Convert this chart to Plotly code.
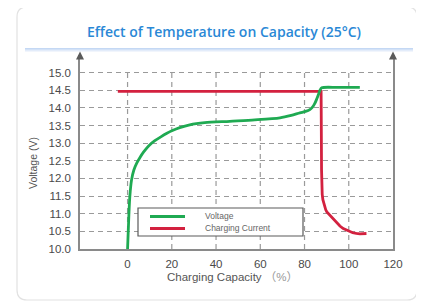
import plotly.graph_objects as go

# ---- data ----
cap_voltage = [0, 0.6, 1.04, 1.81, 2.85, 4.2, 5.55, 7.37, 9.63, 12.34, 15.05, 17.77, 20.03, 23.6, 28.1, 34.9,
               46.2, 57.5, 68.9, 74.0, 77.9, 80.5, 82.4, 83.6, 84.6, 85.5, 86.3, 87.0, 87.8, 95.0, 105.0]
voltage = [10.0, 10.97, 11.5, 11.96, 12.24, 12.44, 12.59, 12.76, 12.93, 13.07, 13.18, 13.28, 13.35, 13.44, 13.52,
           13.58, 13.62, 13.66, 13.72, 13.79, 13.86, 13.9, 13.95, 14.02, 14.12, 14.25, 14.38, 14.5, 14.57,
           14.58, 14.58]

cap_current = [-4.4, 87.5, 87.7, 87.8, 88.0, 88.3, 88.7, 89.2, 89.6, 90.1, 90.8, 91.5, 92.4, 93.3, 94.6, 96.0,
               97.5, 99.1, 100.4, 101.8, 103.4, 105.0, 108.0]
current = [14.47, 14.47, 12.24, 11.75, 11.55, 11.4, 11.28, 11.19, 11.11, 11.05, 11.0, 10.95, 10.88, 10.82, 10.73,
           10.65, 10.58, 10.53, 10.49, 10.46, 10.44, 10.43, 10.44]

x_ticks = [0, 20, 40, 60, 80, 100, 120]
x_grid = [0, 20, 40, 60, 80, 100]
y_ticks = [10.0, 10.5, 11.0, 11.5, 12.0, 12.5, 13.0, 13.5, 14.0, 14.5, 15.0]

series_names = ["Voltage", "Charging Current"]
GREEN = "#1faa52"
RED = "#d3213f"

# ---- geometry (reference pixels; page body has an 8px margin) ----
OFF = 8
W, H = 424 - OFF, 302 - OFF
L_ref, R_ref, T_ref, B_ref = 80, 393, 55, 249
L, T = L_ref - OFF, T_ref - OFF
R = W - (R_ref - OFF)
B = H - (B_ref - OFF)
PW = R_ref - L_ref
PH = B_ref - T_ref


def px(x):
    return (x - L_ref) / PW


def py(y):
    return (B_ref - y) / PH


fig = go.Figure()
fig.add_trace(go.Scatter(x=cap_current, y=current, mode="lines", name=series_names[1],
                         line=dict(color=RED, width=2.8, shape="linear"),
                         showlegend=False, hoverinfo="skip"))
fig.add_trace(go.Scatter(x=cap_voltage, y=voltage, mode="lines", name=series_names[0],
                         line=dict(color=GREEN, width=2.8, shape="spline", smoothing=0.8),
                         showlegend=False, hoverinfo="skip"))

shapes = []
# card
x0, x1, y0, y1, r = 17, 417, 7, 300, 10
path = (f"M {px(x0+r)},{py(y0)} L {px(x1-r)},{py(y0)} Q {px(x1)},{py(y0)} {px(x1)},{py(y0+r)} "
        f"L {px(x1)},{py(y1-r)} Q {px(x1)},{py(y1)} {px(x1-r)},{py(y1)} "
        f"L {px(x0+r)},{py(y1)} Q {px(x0)},{py(y1)} {px(x0)},{py(y1-r)} "
        f"L {px(x0)},{py(y0+r)} Q {px(x0)},{py(y0)} {px(x0+r)},{py(y0)} Z")
shapes.append(dict(type="path", path=path, xref="paper", yref="paper",
                   line=dict(color="#e2e2e2", width=1.2), fillcolor="white", layer="below"))
# light blue band at top of chart image
shapes.append(dict(type="rect", xref="paper", yref="paper", x0=px(25), x1=px(413), y0=py(51.5), y1=py(48),
                   line=dict(width=0), fillcolor="#e3ecfa", layer="below"))
shapes.append(dict(type="rect", xref="paper", yref="paper", x0=px(25), x1=px(413), y0=py(49.6), y1=py(48),
                   line=dict(width=0), fillcolor="#c4d8f4", layer="below"))
# vertical dashed grid lines (stop at 15.0)
for g in x_grid:
    shapes.append(dict(type="line", xref="x", yref="y", x0=g, x1=g, y0=y_ticks[0], y1=y_ticks[-1],
                       line=dict(color="#9a9a9a", width=1.2, dash="5px,4px"), layer="below"))
# axis arrows
for ax in (80, 393):
    shapes.append(dict(type="path", xref="paper", yref="paper",
                       path=f"M {px(ax)},{py(51.5)} L {px(ax-4)},{py(59.5)} L {px(ax+4)},{py(59.5)} Z",
                       line=dict(width=0), fillcolor="#5a5a5a", layer="above"))
# legend box
shapes.append(dict(type="rect", xref="paper", yref="paper", x0=px(138), x1=px(303), y0=py(236), y1=py(208),
                   line=dict(color="#5a5a5a", width=1.2), fillcolor="white", layer="above"))
shapes.append(dict(type="line", xref="paper", yref="paper", x0=px(150), x1=px(185), y0=py(216.5), y1=py(216.5),
                   line=dict(color=GREEN, width=3), layer="above"))
shapes.append(dict(type="line", xref="paper", yref="paper", x0=px(150), x1=px(185), y0=py(228.5), y1=py(228.5),
                   line=dict(color=RED, width=3), layer="above"))

annotations = [
    dict(text="Effect of Temperature on Capacity (25°C)", xref="paper", yref="paper",
         x=px(224), y=py(31), showarrow=False, xanchor="center", yanchor="middle",
         font=dict(family="Open Sans", size=14, color="#2a88d6", weight=600)),
    dict(text="Voltage (V)", xref="paper", yref="paper", x=px(33), y=py(163), textangle=-90,
         showarrow=False, xanchor="center", yanchor="middle",
         font=dict(family="Liberation Sans", size=10.5, color="#555")),
    dict(text="Charging Capacity <span style='color:#9a9a9a'>（%）</span>", xref="paper", yref="paper",
         x=px(232), y=py(277), showarrow=False, xanchor="center", yanchor="middle",
         font=dict(family="Liberation Sans, Noto Sans CJK SC", size=11.5, color="#555")),
    dict(text=series_names[0], xref="paper", yref="paper", x=px(203), y=py(216), showarrow=False,
         xanchor="left", yanchor="middle", font=dict(family="Liberation Sans", size=8.5, color="#666")),
    dict(text=series_names[1], xref="paper", yref="paper", x=px(203), y=py(228), showarrow=False,
         xanchor="left", yanchor="middle", font=dict(family="Liberation Sans", size=8.5, color="#666")),
]

fig.update_layout(
    width=W, height=H, margin=dict(l=L, r=R, t=T, b=B),
    paper_bgcolor="white", plot_bgcolor="rgba(0,0,0,0)",
    shapes=shapes, annotations=annotations, showlegend=False,
    xaxis=dict(range=[-21.5, 120], tickvals=x_ticks, showgrid=False, zeroline=False,
               showline=True, linecolor="#8a8a8a", linewidth=1.5, mirror=False, ticks="",
               ticklabelstandoff=3,
               tickfont=dict(family="Liberation Sans", size=11.5, color="#4a4a4a")),
    yaxis=dict(range=[10, 15.5], tickvals=y_ticks, ticktext=[f"{v:.1f}" for v in y_ticks],
               showgrid=True, gridcolor="#9a9a9a", griddash="5px,4px", gridwidth=1.2,
               zeroline=False, showline=True, linecolor="#8a8a8a", linewidth=1.5, mirror=True,
               ticks="", ticklabelstandoff=5,
               tickfont=dict(family="Liberation Sans", size=11.5, color="#4a4a4a")),
)

fig.write_html("out.html")
